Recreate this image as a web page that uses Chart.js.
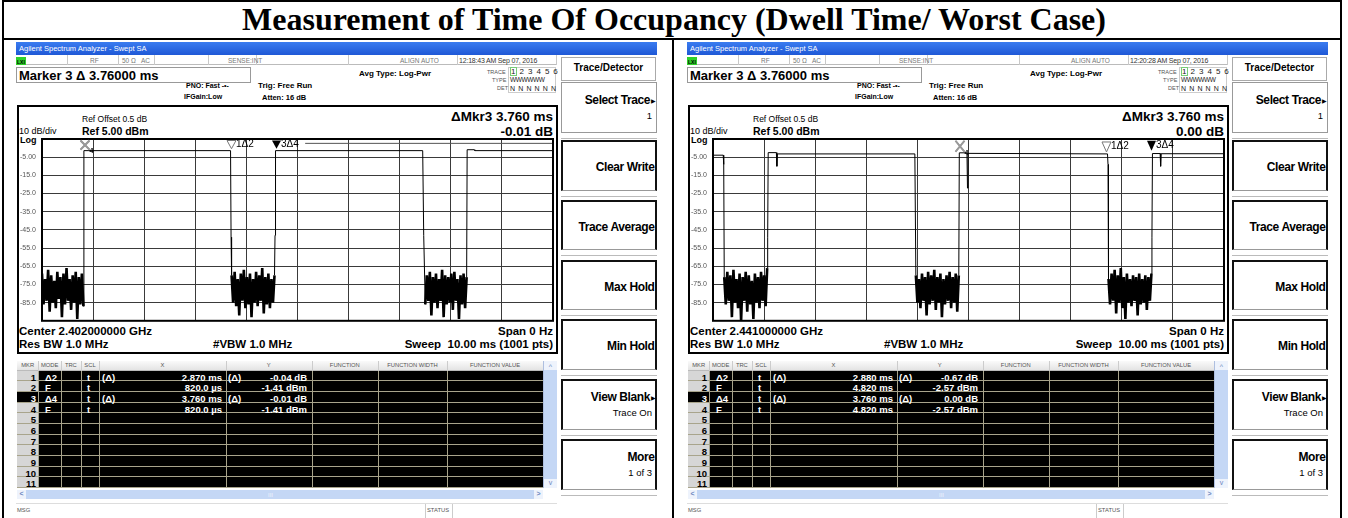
<!DOCTYPE html>
<html>
<head>
<meta charset="utf-8">
<script src="https://cdn.jsdelivr.net/npm/chart.js@4.4.1/dist/chart.umd.min.js"></script>
<style>
body { margin:0; width:1348px; height:518px; overflow:hidden; background:#fff; position:relative; font-family:"Liberation Sans", Arial, sans-serif; }
.a { position:absolute; white-space:nowrap; line-height:1; }
.b { font-weight:bold; }
</style>
</head>
<body>
<script>
// ===== DATA =====
const yTickLabels = ['-5.00', '-15.0', '-25.0', '-35.0', '-45.0', '-55.0', '-65.0', '-75.0', '-85.0'];
const noiseStepMs = 0.03;
const markerLabels = ['1Δ2', '2', '3Δ4', '4'];

// left screen - 2.402 GHz
const leftNoiseStart = [0.00, 3.71, 7.47];
const leftNoiseA = [-69,-86,-72,-84,-67,-90,-70,-85,-73,-88,-68,-83,-71,-93,-69,-86,-66,-84,-72,-89,-70,-85,-68,-94,-71,-86,-69,-87];
const leftNoiseB = [-70,-85,-68,-87,-72,-92,-69,-84,-67,-88,-71,-86,-69,-93,-72,-85,-68,-87,-70,-84,-66,-91,-71,-86,-69,-88,-72,-85,-70];
const leftNoiseC = [-48,-86,-70,-84,-68,-92,-71,-85,-69,-88,-72,-84,-67,-93,-70,-86,-71,-85,-69,-89,-68,-84,-72,-94,-70,-86,-69,-88,-71];
const leftEdgeA = [[0.82,-1.4],[3.69,-1.4],[3.70,-49]];
const leftEdgeB = [[4.56,-48],[4.57,-1.4],[7.45,-1.4]];
const leftEdgeC = [[8.32,-0.9],[8.46,-0.9],[8.47,-1.4],[10,-1.4]];
const leftUpperLine = [[5.15,2.6],[10,2.6]];
const leftMarkerT = [3.69, 0.82, 4.58, 0.82];
const leftMarkerV = [-1.45, -1.41, -1.42, -1.41];

// right screen - 2.441 GHz
const rightNoiseStart = [0.22, 3.97, 7.74];
const rightNoiseA = [-71,-86,-68,-84,-70,-93,-67,-85,-72,-88,-69,-95,-71,-84,-68,-90,-70,-86,-73,-94,-69,-85,-71,-88,-68,-84,-70,-87,-66];
const rightNoiseB = [-70,-85,-72,-88,-69,-84,-71,-92,-68,-86,-70,-84,-67,-89,-71,-85,-69,-93,-72,-86,-70,-84,-68,-88,-71,-85,-69,-90,-70];
const rightNoiseC = [-72,-86,-69,-84,-67,-91,-70,-85,-66,-88,-71,-94,-69,-85,-72,-87,-70,-84,-71,-92,-69,-86,-72,-85,-70,-89,-71,-84,-69];
const rightEdge0 = [[0,-3.9],[0.20,-3.9],[0.21,-9]];
const rightEdgeA = [[1.07,-49],[1.08,-2.5],[1.24,-2.5],[1.25,-10],[1.26,-3.2],[3.95,-3.2]];
const rightEdgeB = [[4.82,-2.6],[4.97,-2.6],[4.98,-22],[4.99,-2.9],[7.72,-3.2],[7.73,-9]];
const rightEdgeC = [[8.59,-49],[8.60,-3.0],[8.75,-3.0],[8.76,-10],[8.77,-3.1],[10,-3.1]];
const rightMarkerT = [7.70, 4.82, 8.58, 4.82];
const rightMarkerV = [-3.24, -2.57, -2.57, -2.57];

// marker tables
const leftRows = [
  ['1','Δ2','','t','(Δ)','2.870 ms','(Δ)','-0.04 dB'],
  ['2','F','','t','','820.0 µs','','-1.41 dBm'],
  ['3','Δ4','','t','(Δ)','3.760 ms','(Δ)','-0.01 dB'],
  ['4','F','','t','','820.0 µs','','-1.41 dBm']
];
const rightRows = [
  ['1','Δ2','','t','(Δ)','2.880 ms','(Δ)','-0.67 dB'],
  ['2','F','','t','','4.820 ms','','-2.57 dBm'],
  ['3','Δ4','','t','(Δ)','3.760 ms','(Δ)','0.00 dB'],
  ['4','F','','t','','4.820 ms','','-2.57 dBm']
];

// ===== helpers =====
function put(par, x, y, w, h, css, text) {
  const d = document.createElement('div');
  d.className = 'a';
  d.style.cssText = `left:${x}px;top:${y}px;` + (w != null ? `width:${w}px;` : '') + (h != null ? `height:${h}px;` : '') + (css || '');
  if (text != null) d.textContent = text;
  par.appendChild(d);
  return d;
}
function putR(par, xr, y, css, text) {
  const d = put(par, 0, y, null, null, css, text);
  d.style.left = '';
  d.style.right = (641 - xr) + 'px';
  return d;
}

function noisePts(start, vals) {
  return vals.map((v, i) => ({ x: +(start + i * noiseStepMs).toFixed(3), y: v }));
}
function edgePts(arr) {
  return arr.map(p => ({ x: p[0], y: p[1] }));
}

// khung bao vùng vẽ
const framePlugin = {
  id: 'frame',
  afterDraw(c) {
    const a = c.chartArea, g = c.ctx;
    g.save();
    g.strokeStyle = '#000';
    g.lineWidth = 2;
    g.strokeRect(a.left, a.top, a.right - a.left, a.bottom - a.top);
    g.restore();
  }
};

// vẽ marker tam giác + nhãn
const markerPlugin = {
  id: 'analyzerMarkers',
  afterDraw(c, args, o) {
    const xs = c.scales.x, ys = c.scales.y, g = c.ctx;
    g.save();
    o.t.forEach((t, i) => {
      const px = Math.round(xs.getPixelForValue(t)) + 0.5;
      const py = ys.getPixelForValue(o.v[i]);
      const top = Math.max(c.chartArea.top + 1.5, py - 12);
      if (i === 0 || i === 2) {
        g.beginPath();
        g.moveTo(px - 4.5, top);
        g.lineTo(px + 4.5, top);
        g.lineTo(px, py - 2);
        g.closePath();
        if (i === 0) { g.fillStyle = '#fff'; g.fill(); g.strokeStyle = '#777'; g.lineWidth = 1; g.stroke(); }
        else { g.fillStyle = '#000'; g.fill(); }
        g.fillStyle = '#000';
        g.font = '10px "Liberation Sans"';
        g.textBaseline = 'middle';
        g.fillText(markerLabels[i], px + 4.5, top + 4);
      } else {
        g.strokeStyle = '#9a9a9a';
        g.lineWidth = 1.8;
        g.beginPath();
        g.moveTo(px - 4, top); g.lineTo(px + 5, py - 1);
        g.moveTo(px + 5, top); g.lineTo(px - 4, py - 1);
        g.stroke();
        if (i === 3) {
          g.fillStyle = '#000';
          g.font = 'bold 7px "Liberation Sans"';
          g.textBaseline = 'middle';
          g.fillText(markerLabels[i], px + 5, py);
        }
      }
    });
    g.restore();
  }
};

function makeChart(canvas, trace, extra, mT, mV) {
  const sets = [{
    data: trace, borderColor: '#000', borderWidth: 1, pointRadius: 0, tension: 0, fill: false,
    // đoạn nhiễu vẽ dày hơn cho đặc như ảnh gốc
    segment: { borderWidth: s => (s.p0.parsed.y < -60 && s.p1.parsed.y < -60) ? 2.6 : 1 }
  }];
  extra.forEach(e => sets.push({ data: edgePts(e), borderColor: '#555', borderWidth: 1, pointRadius: 0, fill: false }));
  return new Chart(canvas, {
    type: 'line',
    data: { datasets: sets },
    options: {
      responsive: false,
      animation: false,
      layout: { autoPadding: false, padding: { left: 2, top: 32, right: 5, bottom: 4 } },
      plugins: { legend: { display: false }, tooltip: { enabled: false }, analyzerMarkers: { t: mT, v: mV } },
      scales: {
        x: {
          type: 'linear', min: 0, max: 10,
          ticks: { display: false, stepSize: 1 },
          grid: { color: '#3a3a3a', lineWidth: 1, drawTicks: false },
          border: { display: false },
          afterFit(s) { s.height = 0; }
        },
        y: {
          type: 'linear', min: -95, max: 5,
          ticks: {
            stepSize: 10, autoSkip: false, crossAlign: 'far', padding: 0, color: '#555',
            font: { family: 'Liberation Sans', size: 7 },
            callback: v => { const k = Math.round((-5 - v) / 10); return yTickLabels[k] || ''; }
          },
          grid: { color: '#3a3a3a', lineWidth: 1, drawTicks: false },
          border: { display: false },
          afterFit(s) { s.width = 22; }
        }
      }
    },
    plugins: [framePlugin, markerPlugin]
  });
}

// ===== page frame + title =====
const body = document.body;
put(body, 2, 0, 1340, 2, 'background:#000');
put(body, 2, 0, 2, 518, 'background:#000');
put(body, 1340, 0, 2, 518, 'background:#000');
put(body, 2, 38, 1340, 2, 'background:#000');
put(body, 672, 40, 2, 478, 'background:#000');
put(body, 0, 1, 1348, 34, 'text-align:center;font:bold 32px "Liberation Serif";', 'Measurement of Time Of Occupancy (Dwell Time/ Worst Case)');

// ===== one analyzer screen =====
function buildPanel(ox, cfg) {
  const p = put(body, ox, 42, 641, 476, 'overflow:hidden;');

  // title bar + status row
  put(p, 0, 0, 641, 13, 'background:linear-gradient(#3a7cf0,#1f58d6);');
  put(p, 3, 3, null, null, 'font-size:7.5px;color:#fff;', 'Agilent Spectrum Analyzer - Swept SA');
  put(p, 0, 13, 541, 10, 'border-bottom:1px solid #bbb;box-sizing:border-box;');
  put(p, 0, 14.5, 10, 8.5, 'background:#2fd12a;font:bold 5px "Liberation Sans";color:#000;padding:2px 0 0 1px;box-sizing:border-box;', 'LXI');
  [51, 102, 138, 192, 240, 332, 441, 540].forEach(x => put(p, x, 13, 1, 10, 'background:#c8c8c8'));
  const st = 'font-size:6.5px;color:#777;';
  put(p, 74, 15.5, null, null, st, 'RF');
  put(p, 106, 15.5, null, null, st, '50 Ω');
  put(p, 125, 15.5, null, null, st, 'AC');
  put(p, 212, 15.5, null, null, st, 'SENSE:INT');
  put(p, 384, 15.5, null, null, st, 'ALIGN AUTO');
  put(p, 443, 15, null, null, 'font-size:7px;color:#333;letter-spacing:-0.2px;', cfg.time);

  // marker readout row
  put(p, 0, 24.5, 235, 16, 'border:1px solid #999;box-sizing:border-box;');
  put(p, 3, 26.3, null, null, 'font:bold 13px "Liberation Sans";', 'Marker 3 Δ 3.76000 ms');
  put(p, 343, 27, null, null, 'font:bold 8px "Liberation Sans";', 'Avg Type: Log-Pwr');
  put(p, 170, 40, null, null, 'font:bold 7px "Liberation Sans";', 'PNO: Fast  -•-');
  put(p, 168, 50.5, null, null, 'font:bold 7px "Liberation Sans";', 'IFGain:Low');
  put(p, 242, 38.5, null, null, 'font:bold 8px "Liberation Sans";', 'Trig: Free Run');
  put(p, 246, 50.5, null, null, 'font:bold 7.5px "Liberation Sans";', 'Atten: 16 dB');
  put(p, 492, 24.5, 48, 26, 'border:1px solid #ccc;box-sizing:border-box;');
  put(p, 471, 27.5, null, null, 'font-size:5.5px;color:#555;', 'TRACE');
  put(p, 476, 35.5, null, null, 'font-size:5.5px;color:#555;', 'TYPE');
  put(p, 481, 43.5, null, null, 'font-size:5.5px;color:#555;', 'DET');
  put(p, 493.5, 25, 7, 9, 'border:1px solid #7c7;box-sizing:border-box;');
  put(p, 495, 26, null, null, 'font-size:8px;color:#222;letter-spacing:0.9px;', '1 2 3 4 5 6');
  put(p, 494, 35, null, null, 'font-size:6.5px;color:#222;letter-spacing:-0.4px;', 'WWWWWW');
  put(p, 494, 43, null, null, 'font-size:7px;color:#222;letter-spacing:0.6px;', 'N N N N N N');

  // graticule frame + text
  put(p, 1, 63, 541, 249, 'border:2px solid #000;box-sizing:border-box;');
  put(p, 66, 73, null, null, 'font-size:8.5px;', 'Ref Offset 0.5 dB');
  put(p, 3, 85, null, null, 'font-size:9px;', '10 dB/div');
  put(p, 66, 83, null, null, 'font:bold 10.5px "Liberation Sans";', 'Ref 5.00 dBm');
  put(p, 4, 93, null, null, 'font:bold 9px "Liberation Sans";', 'Log');
  putR(p, 537, 67.3, 'font:bold 13.5px "Liberation Sans";', 'ΔMkr3 3.760 ms');
  putR(p, 537, 82.3, 'font:bold 13.5px "Liberation Sans";', cfg.mkrDb);
  put(p, 3, 283, null, null, 'font:bold 11.5px "Liberation Sans";', cfg.center);
  put(p, 3, 295.5, null, null, 'font:bold 11.5px "Liberation Sans";', 'Res BW 1.0 MHz');
  put(p, 197, 295.5, null, null, 'font:bold 11.5px "Liberation Sans";', '#VBW 1.0 MHz');
  putR(p, 537, 283, 'font:bold 11.5px "Liberation Sans";', 'Span 0 Hz');
  putR(p, 537, 295.5, 'font:bold 11.5px "Liberation Sans";white-space:pre;', 'Sweep  10.00 ms (1001 pts)');

  const cv = document.createElement('canvas');
  cv.width = 540; cv.height = 218;
  cv.className = 'a';
  cv.style.left = '2px'; cv.style.top = '65px';
  p.appendChild(cv);
  makeChart(cv, cfg.trace, cfg.extra, cfg.mT, cfg.mV);

  // marker table
  const cols = [1, 22.3, 45, 64.7, 83.3, 209.7, 295.7, 362, 431, 527];
  const heads = ['MKR', 'MODE', 'TRC', 'SCL', 'X', 'Y', 'FUNCTION', 'FUNCTION WIDTH', 'FUNCTION VALUE'];
  const hTop = 318.7, rTop = 328.7, rH = 10.66;
  put(p, 1, hTop, 526, rTop - hTop, 'background:linear-gradient(#fafafa,#e4e4e4);border-bottom:1px solid #bbb;box-sizing:border-box;');
  heads.forEach((h, i) => {
    put(p, cols[i], hTop + 2.5, cols[i + 1] - cols[i], null, 'text-align:center;font-size:5.8px;color:#555;', h);
    if (i > 0) put(p, cols[i], hTop, 1, rTop - hTop, 'background:#ccc');
  });
  put(p, 1, rTop, 526, rH * 11, 'background:#000;');
  put(p, 1, rTop, 21.3, rH * 11, 'background:#d6d6d6;');
  put(p, 1, rTop + rH * 2, 21.3, rH, 'background:#000;');
  for (let k = 1; k <= 11; k++) put(p, 1, rTop + rH * k - 1, 526, 1, 'background:#a8a48c');
  cols.slice(1, 9).forEach(x => put(p, x, rTop, 1, rH * 11, 'background:#a8a48c'));
  const rowFont = 'font:bold 9.5px "Liberation Sans";color:#fff;';
  for (let k = 0; k < 11; k++) {
    const y = rTop + rH * k + 1;
    const r = cfg.rows[k];
    putR(p, 20, y, 'font:bold 9.5px "Liberation Sans";color:' + (k === 2 ? '#fff' : '#000') + ';', String(k + 1));
    if (!r) continue;
    put(p, 29, y, null, null, rowFont, r[1]);
    put(p, 71, y, null, null, rowFont, r[3]);
    put(p, 86, y, null, null, rowFont, r[4]);
    putR(p, 206, y, rowFont, r[5]);
    put(p, 212, y, null, null, rowFont, r[6]);
    putR(p, 291, y, rowFont, r[7]);
  }
  // scroll bars
  put(p, 527, hTop, 14, rTop + rH * 11 - hTop, 'background:#c4d7f5;border-left:1px solid #aebfe0;box-sizing:border-box;');
  put(p, 528, hTop, 13, 9.5, 'background:#eef3fc;font-size:7px;color:#6b86c0;text-align:center;line-height:11px;', '^');
  put(p, 528, rTop + rH * 11 - 9, 13, 9, 'background:#eef3fc;font-size:7px;color:#6b86c0;text-align:center;line-height:7px;', 'v');
  put(p, 1, 448, 540, 8.5, 'background:#c4d7f5;');
  put(p, 1, 448, 9, 8.5, 'background:#eef3fc;font:bold 7px "Liberation Sans";color:#6b86c0;text-align:center;line-height:8.5px;', '<');
  put(p, 518, 448, 9, 8.5, 'background:#eef3fc;font:bold 7px "Liberation Sans";color:#6b86c0;text-align:center;line-height:8.5px;', '>');
  put(p, 527, 448, 14, 8.5, 'background:#fff;');
  put(p, 252, 449.5, null, null, 'font-size:6px;color:#eef3fc;', 'III');

  // message bar
  put(p, 0, 460.5, 541, 1, 'background:#ddd');
  put(p, 1, 466, null, null, 'font-size:5.8px;color:#555;', 'MSG');
  put(p, 409, 461.5, 28, 15, 'border-left:1px solid #ccc;border-right:1px solid #ccc;box-sizing:border-box;');
  put(p, 411, 466, null, null, 'font-size:5.8px;color:#555;', 'STATUS');

  // soft keys
  put(p, 545, 15, 95, 23.5, 'border:1px solid #aaa;box-sizing:border-box;');
  put(p, 545, 19.7, 95, null, 'text-align:center;font:bold 10px "Liberation Sans";', 'Trace/Detector');
  const keys = [['Select Trace', '1', true], ['Clear Write'], ['Trace Average'], ['Max Hold'], ['Min Hold'], ['View Blank', 'Trace On', true], ['More', '1 of 3']];
  const keyFont = 'font:bold 12px "Liberation Sans";letter-spacing:-0.4px;';
  keys.forEach((k, i) => {
    const top = i === 0 ? 40 : 98 + (i - 1) * 59.8;
    const h = 50.5;
    put(p, 545, top, 95.5, h, 'border:2px solid #111;border-bottom:1px solid #999;box-sizing:border-box;' + (i === 0 ? 'border-color:#999;border-width:1px;' : ''));
    put(p, 545, top + h + 5, 95.5, 1, 'background:#bbb');
    const tx = k[2] ? 634 : 638.5;
    if (k[1]) {
      putR(p, tx, top + 11, keyFont, k[0]);
      putR(p, 636, top + 28.5, 'font-size:9.5px;', k[1]);
    } else {
      putR(p, tx, top + 20, keyFont, k[0]);
    }
    if (k[2]) put(p, 634.5, top + 16, null, null, 'font-size:6px;', '▶');
  });
}

const leftTrace = [].concat(
  noisePts(leftNoiseStart[0], leftNoiseA), edgePts(leftEdgeA),
  noisePts(leftNoiseStart[1], leftNoiseB), edgePts(leftEdgeB),
  noisePts(leftNoiseStart[2], leftNoiseC), edgePts(leftEdgeC)
);
const rightTrace = [].concat(
  edgePts(rightEdge0),
  noisePts(rightNoiseStart[0], rightNoiseA), edgePts(rightEdgeA),
  noisePts(rightNoiseStart[1], rightNoiseB), edgePts(rightEdgeB),
  noisePts(rightNoiseStart[2], rightNoiseC), edgePts(rightEdgeC)
);

buildPanel(16, {
  time: '12:18:43 AM Sep 07, 2016', mkrDb: '-0.01 dB', center: 'Center 2.402000000 GHz',
  trace: leftTrace, extra: [leftUpperLine], mT: leftMarkerT, mV: leftMarkerV, rows: leftRows
});
buildPanel(687, {
  time: '12:20:28 AM Sep 07, 2016', mkrDb: '0.00 dB', center: 'Center 2.441000000 GHz',
  trace: rightTrace, extra: [], mT: rightMarkerT, mV: rightMarkerV, rows: rightRows
});
</script>
</body>
</html>
